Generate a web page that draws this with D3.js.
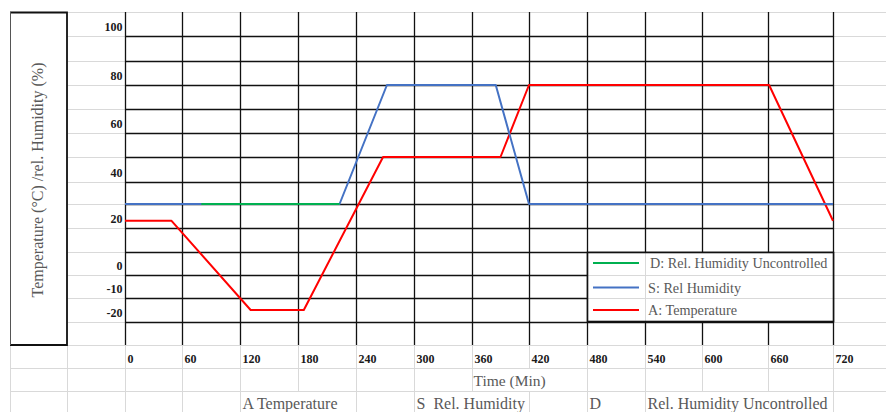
<!DOCTYPE html>
<html>
<head>
<meta charset="utf-8">
<script src="https://cdn.jsdelivr.net/npm/d3@7"></script>
<style>
  body { margin: 0; background: #fff; }
  svg { display: block; }
  text { font-family: "Liberation Serif", "DejaVu Serif", serif; }
</style>
</head>
<body>
<svg id="chart"></svg>
<script>
// Time axis (min) and left-hand value labels
const timeTicks = [0, 60, 120, 180, 240, 300, 360, 420, 480, 540, 600, 660, 720];
const valueLabels = [100, 80, 60, 40, 20, 0, -10, -20];

// A: Temperature
const tempTime = [0, 49, 131, 186, 268, 390, 420, 661, 720];
const tempValue = [23, 23, -15, -15, 50, 50, 80, 80, 23];

// S: Rel Humidity
const rhTime = [0, 223, 272, 385, 420, 720];
const rhValue = [30, 30, 80, 80, 30, 30];

// D: Rel. Humidity Uncontrolled
const rhFreeTime = [80, 223];
const rhFreeValue = [30, 30];

const seriesNames = ["D: Rel. Humidity Uncontrolled", "S: Rel Humidity", "A: Temperature"];
const seriesColors = ["#00b050", "#4472c4", "#ff0000"];

const yTitle = "Temperature (°C) /rel. Humidity (%)";
const xTitle = "Time (Min)";
const footTexts = ["A Temperature", "S  Rel. Humidity", "D", "Rel. Humidity Uncontrolled"];
const footCols = [120, 300, 480, 540];

// Layout: the chart sits on a spreadsheet, so columns/rows follow the sheet
const width = 886, height = 412;
const colEdges = [125, 182, 240, 298, 356, 414, 472, 529, 587, 645, 702, 768, 833];
const rowLines = [12, 36, 61, 85, 109, 133, 157, 182, 204, 228, 252, 275, 298, 322, 345];
const extraRows = [368, 391];
const light = "#d9d9d9", dark = "#111", textGray = "#595959";

const x = d3.scaleLinear().domain(timeTicks).range(colEdges);
const y = d3.scaleLinear().domain(d3.range(110, -31, -10)).range(rowLines);

const svg = d3.select("#chart")
  .attr("width", width)
  .attr("height", height)
  .attr("viewBox", [0, 0, width, height]);

// spreadsheet gridlines (light)
const sheet = svg.append("g").attr("stroke", light).attr("stroke-width", 1);
sheet.selectAll("line.h")
  .data(rowLines.concat(extraRows))
  .join("line")
  .attr("x1", 10).attr("x2", width)
  .attr("y1", d => d + 0.5).attr("y2", d => d + 0.5);

// vertical sheet lines, with gaps where cell text overflows
const vcuts = {529: [[368, 391]], 298: [[391, height]], 472: [[391, height]], 702: [[391, height]], 768: [[391, height]]};
[10, 67].concat(colEdges).forEach(cx => {
  let segs = [[12, height]];
  (vcuts[cx] || []).forEach(([a, b]) => {
    segs = segs.flatMap(([s, e]) => [[s, Math.min(e, a)], [Math.max(s, b), e]]).filter(([s, e]) => e > s);
  });
  segs.forEach(([s, e]) => sheet.append("line")
    .attr("x1", cx + 0.5).attr("x2", cx + 0.5).attr("y1", s).attr("y2", e));
});

// left box holding the y title
svg.append("rect")
  .attr("x", 10.5).attr("y", 12.5).attr("width", 56.5).attr("height", 332.5)
  .attr("fill", "#fff");
svg.append("path")
  .attr("d", `M10,12.5H67V345H10`)
  .attr("fill", "none").attr("stroke", dark).attr("stroke-width", 1.8);
svg.append("line")
  .attr("x1", 10.5).attr("x2", 10.5).attr("y1", 12).attr("y2", 345)
  .attr("stroke", "#555").attr("stroke-width", 1);

svg.append("text")
  .attr("transform", `translate(43,${(36 + 322) / 2 + 1}) rotate(-90)`)
  .attr("text-anchor", "middle")
  .attr("font-size", 16)
  .attr("fill", textGray)
  .text(yTitle);

// chart grid (dark)
const grid = svg.append("g").attr("stroke", dark).attr("stroke-width", 1.3);
grid.selectAll("line.h")
  .data(d3.range(100, -21, -10))
  .join("line")
  .attr("x1", x(0)).attr("x2", x(720))
  .attr("y1", d => y(d) + 0.5).attr("y2", d => y(d) + 0.5);
grid.selectAll("line.v")
  .data(timeTicks)
  .join("line")
  .attr("x1", d => x(d) + 0.5).attr("x2", d => x(d) + 0.5)
  .attr("y1", y(110)).attr("y2", y(-30));

// value labels (sheet cells, right aligned)
svg.append("g")
  .selectAll("text")
  .data(valueLabels)
  .join("text")
  .attr("x", 122.5)
  .attr("y", d => y(d) - 5)
  .attr("text-anchor", "end")
  .attr("font-size", 12)
  .attr("font-weight", "bold")
  .attr("fill", "#1a1a1a")
  .text(d => d);

// time labels
svg.append("g")
  .selectAll("text")
  .data(timeTicks)
  .join("text")
  .attr("x", d => x(d) + 2.5)
  .attr("y", 363)
  .attr("font-size", 12)
  .attr("font-weight", "bold")
  .attr("fill", "#1a1a1a")
  .text(d => d);

svg.append("text")
  .attr("x", x(360) + 1.5).attr("y", 386)
  .attr("font-size", 15.5)
  .attr("fill", textGray)
  .text(xTitle);

svg.append("g")
  .selectAll("text")
  .data(footTexts)
  .join("text")
  .attr("x", (d, i) => x(footCols[i]) + 2.5)
  .attr("y", 408.5)
  .attr("font-size", 16)
  .attr("fill", textGray)
  .style("white-space", "pre")
  .text(d => d);

// series lines
const line = d3.line().x(d => x(d[0])).y(d => y(d[1]));
const series = [
  {t: tempTime, v: tempValue, c: seriesColors[2]},
  {t: rhTime, v: rhValue, c: seriesColors[1]},
  {t: rhFreeTime, v: rhFreeValue, c: seriesColors[0]}
];
svg.append("g")
  .selectAll("path")
  .data(series)
  .join("path")
  .attr("fill", "none")
  .attr("stroke", d => d.c)
  .attr("stroke-width", 2)
  .attr("stroke-linejoin", "round")
  .attr("d", d => line(d.t.map((t, i) => [t, d.v[i]])));

// legend box (sheet cells show through it)
const lx = x(480), rx = x(720), ty = y(10), by = y(-20);
const legend = svg.append("g");
legend.append("rect")
  .attr("x", lx + 0.5).attr("y", ty + 0.5)
  .attr("width", rx - lx).attr("height", by - ty - 1)
  .attr("fill", "#fff");
legend.append("g").attr("stroke", light)
  .call(g => g.append("line").attr("x1", x(540) + 0.5).attr("x2", x(540) + 0.5).attr("y1", ty).attr("y2", by))
  .call(g => g.selectAll("line.r").data([0, -10]).join("line")
    .attr("x1", lx).attr("x2", rx).attr("y1", d => y(d) + 0.5).attr("y2", d => y(d) + 0.5));
legend.append("rect")
  .attr("x", lx + 0.5).attr("y", ty + 0.5)
  .attr("width", rx - lx).attr("height", by - ty - 1)
  .attr("fill", "none").attr("stroke", dark).attr("stroke-width", 1.6);

const rowY = [263, 287.5, 310];
const items = legend.selectAll("g.item")
  .data(seriesNames)
  .join("g");
items.append("line")
  .attr("x1", lx + 6).attr("x2", lx + 52)
  .attr("y1", (d, i) => rowY[i]).attr("y2", (d, i) => rowY[i])
  .attr("stroke", (d, i) => seriesColors[i])
  .attr("stroke-width", 2);
items.append("text")
  .attr("x", (d, i) => i === 0 ? lx + 63 : lx + 61)
  .attr("y", (d, i) => rowY[i] + 5)
  .attr("font-size", 14.2)
  .attr("fill", textGray)
  .text(d => d);
</script>
</body>
</html>
